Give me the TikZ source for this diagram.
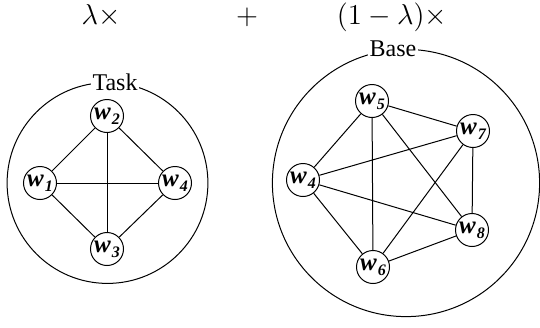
\documentclass[tikz,border=0pt]{standalone}
\usepackage[no-math]{fontspec}
\setmainfont{Liberation Serif}
\newcommand\wlab[1]{w\kern0.5pt\raisebox{-0.45ex}{\fontsize{8}{9}\selectfont #1}}
\begin{document}
\begin{tikzpicture}[x=0.5pt,y=-0.5pt,
  wnode/.style={circle,draw,fill=white,line width=0.5pt,minimum size=16.5pt,inner sep=0pt,
    font=\fontsize{12.5}{14}\selectfont\bfseries\itshape},
  edge/.style={line width=0.5pt},
  ring/.style={line width=0.5pt},
  ringlabel/.style={fill=white,inner sep=1pt,font=\fontsize{12}{14}\selectfont},
  coef/.style={anchor=base,inner sep=0pt,font=\fontsize{14.4}{16}\selectfont}]
\useasboundingbox (0,0) rectangle (540,327);
% coefficients
\node[coef] (c1) at (101,24.5) {$\lambda\times$};
\node[coef] (c2) at (247,24.5) {$+$};
\node[coef] (c3) at (392,24.5) {$(1-\lambda)\times$};
% rings
\draw[ring] (107.5,183) circle[radius=50.2pt];
\draw[ring] (406,183) circle[radius=66.8pt];
\node[ringlabel] (task) at (115,82) {Task};
\node[ringlabel] (base) at (393,49) {Base};
% task graph
\node[wnode] (a2) at (107,116) {\wlab{2}};
\node[wnode] (a1) at (40,183) {\wlab{1}};
\node[wnode] (a4) at (175,183) {\wlab{4}};
\node[wnode] (a3) at (107,249) {\wlab{3}};
\draw[edge] (a1) -- (a2);
\draw[edge] (a2) -- (a4);
\draw[edge] (a4) -- (a3);
\draw[edge] (a3) -- (a1);
\draw[edge] (a1) -- (a4);
\draw[edge] (a2) -- (a3);
% base graph
\node[wnode] (b5) at (372,101) {\wlab{5}};
\node[wnode] (b7) at (473,131) {\wlab{7}};
\node[wnode] (b4) at (303,180) {\wlab{4}};
\node[wnode] (b8) at (472,230) {\wlab{8}};
\node[wnode] (b6) at (373,267) {\wlab{6}};
\draw[edge] (b4) -- (b5);
\draw[edge] (b4) -- (b7);
\draw[edge] (b4) -- (b8);
\draw[edge] (b4) -- (b6);
\draw[edge] (b5) -- (b7);
\draw[edge] (b5) -- (b8);
\draw[edge] (b5) -- (b6);
\draw[edge] (b7) -- (b8);
\draw[edge] (b7) -- (b6);
\draw[edge] (b8) -- (b6);
\end{tikzpicture}
\end{document}
